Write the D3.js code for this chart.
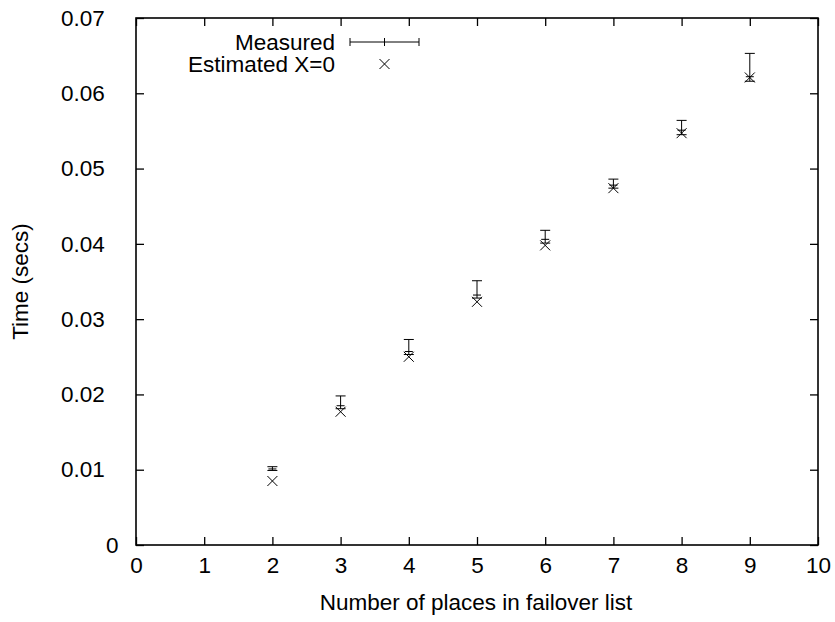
<!DOCTYPE html>
<html>
<head>
<meta charset="utf-8">
<script src="https://cdn.jsdelivr.net/npm/d3@7"></script>
<style>
  html, body { margin: 0; padding: 0; background: #fff; }
  svg { display: block; font-family: "Liberation Sans", Arial, sans-serif; }
</style>
</head>
<body>
<svg id="chart" width="835" height="622"></svg>
<script>
// Failover list length vs. time
const places = [2, 3, 4, 5, 6, 7, 8, 9];
const measured = [0.0101, 0.0185, 0.0257, 0.0332, 0.0406, 0.0478, 0.0551, 0.0622];
const measuredLow = [0.0099, 0.0181, 0.0253, 0.0328, 0.0401, 0.0474, 0.0545, 0.0616];
const measuredHigh = [0.0104, 0.0198, 0.0273, 0.0351, 0.0418, 0.0486, 0.0564, 0.0653];
const estimated = [0.0085, 0.0177, 0.0250, 0.0323, 0.0398, 0.0474, 0.0547, 0.0621];

const xTicks = [0, 1, 2, 3, 4, 5, 6, 7, 8, 9, 10];
const yTicks = [0, 0.01, 0.02, 0.03, 0.04, 0.05, 0.06, 0.07];

const svg = d3.select("#chart");
const plotLeft = 136, plotRight = 818, plotTop = 18, plotBottom = 545;

const x = d3.scaleLinear().domain([0, 10]).range([plotLeft, plotRight]);
const y = d3.scaleLinear().domain([0, 0.07]).range([plotBottom, plotTop]);

const tickLen = 8;
const fontSize = 22.5;
const charCell = 15; // fixed per-character cell used to place y labels

// Axes with inward ticks, mirrored on top and right
const gx = svg.append("g").attr("transform", `translate(0,${plotBottom})`)
  .call(d3.axisBottom(x).tickValues(xTicks).tickSize(-tickLen).tickPadding(12).tickFormat(d3.format("d")));
const gxTop = svg.append("g").attr("transform", `translate(0,${plotTop})`)
  .call(d3.axisTop(x).tickValues(xTicks).tickSize(-tickLen).tickFormat(""));
const gy = svg.append("g").attr("transform", `translate(${plotLeft},0)`)
  .call(d3.axisLeft(y).tickValues(yTicks).tickSize(-tickLen).tickPadding(15)
    .tickFormat(d => d === 0 ? "0" : d3.format(".2f")(d)));
const gyRight = svg.append("g").attr("transform", `translate(${plotRight},0)`)
  .call(d3.axisRight(y).tickValues(yTicks).tickSize(-tickLen).tickFormat(""));

[gx, gxTop, gy, gyRight].forEach(g => {
  g.select(".domain").remove();
  g.selectAll(".tick line").attr("stroke", "#000").attr("stroke-width", 1.3);
  g.selectAll(".tick text").attr("fill", "#000").attr("font-size", fontSize)
    .attr("font-family", "Liberation Sans, Arial, sans-serif");
});

// y labels start at a fixed-cell offset from the axis
gy.selectAll(".tick text")
  .attr("text-anchor", "start")
  .attr("x", function () { return -15 - charCell * this.textContent.length; });

// Frame
svg.append("rect")
  .attr("x", plotLeft).attr("y", plotTop)
  .attr("width", plotRight - plotLeft).attr("height", plotBottom - plotTop)
  .attr("fill", "none").attr("stroke", "#000").attr("stroke-width", 1.6);

// Axis titles
svg.append("text")
  .attr("x", (plotLeft + plotRight) / 2 - 1).attr("y", 610)
  .attr("text-anchor", "middle").attr("font-size", fontSize)
  .text("Number of places in failover list");
svg.append("text")
  .attr("transform", `translate(28,${(plotTop + plotBottom) / 2}) rotate(-90)`)
  .attr("text-anchor", "middle").attr("font-size", fontSize)
  .text("Time (secs)");

// Measured series: error bars with a + at the mean
const cap = 5;
const plus = 4;
const meas = svg.append("g").attr("stroke", "#000").attr("stroke-width", 1);
places.forEach((p, i) => {
  const cx = x(p);
  meas.append("line").attr("x1", cx).attr("x2", cx)
    .attr("y1", y(measuredLow[i])).attr("y2", y(measuredHigh[i]));
  meas.append("line").attr("x1", cx - cap).attr("x2", cx + cap)
    .attr("y1", y(measuredHigh[i])).attr("y2", y(measuredHigh[i]));
  meas.append("line").attr("x1", cx - cap).attr("x2", cx + cap)
    .attr("y1", y(measuredLow[i])).attr("y2", y(measuredLow[i]));
  meas.append("line").attr("x1", cx - plus).attr("x2", cx + plus)
    .attr("y1", y(measured[i])).attr("y2", y(measured[i]));
});

// Estimated series: crosses
const cr = 5;
const est = svg.append("g").attr("stroke", "#000").attr("stroke-width", 1);
function cross(g, cx, cy) {
  g.append("line").attr("x1", cx - cr).attr("x2", cx + cr).attr("y1", cy - cr).attr("y2", cy + cr);
  g.append("line").attr("x1", cx - cr).attr("x2", cx + cr).attr("y1", cy + cr).attr("y2", cy - cr);
}
places.forEach((p, i) => cross(est, x(p), y(estimated[i])));

// Legend
const lg = svg.append("g");
const textRight = 335;
lg.append("text").attr("x", textRight).attr("y", 50).attr("text-anchor", "end")
  .attr("font-size", fontSize).text("Measured");
lg.append("text").attr("x", textRight).attr("y", 72).attr("text-anchor", "end")
  .attr("font-size", fontSize).text("Estimated X=0");
const ly = 42, lx0 = 350, lx1 = 419, lmid = (lx0 + lx1) / 2;
const ls = lg.append("g").attr("stroke", "#000").attr("stroke-width", 1);
ls.append("line").attr("x1", lx0).attr("x2", lx1).attr("y1", ly).attr("y2", ly);
ls.append("line").attr("x1", lx0).attr("x2", lx0).attr("y1", ly - 4).attr("y2", ly + 4);
ls.append("line").attr("x1", lx1).attr("x2", lx1).attr("y1", ly - 4).attr("y2", ly + 4);
ls.append("line").attr("x1", lmid).attr("x2", lmid).attr("y1", ly - 4).attr("y2", ly + 4);
cross(ls, lmid, 64);
</script>
</body>
</html>
